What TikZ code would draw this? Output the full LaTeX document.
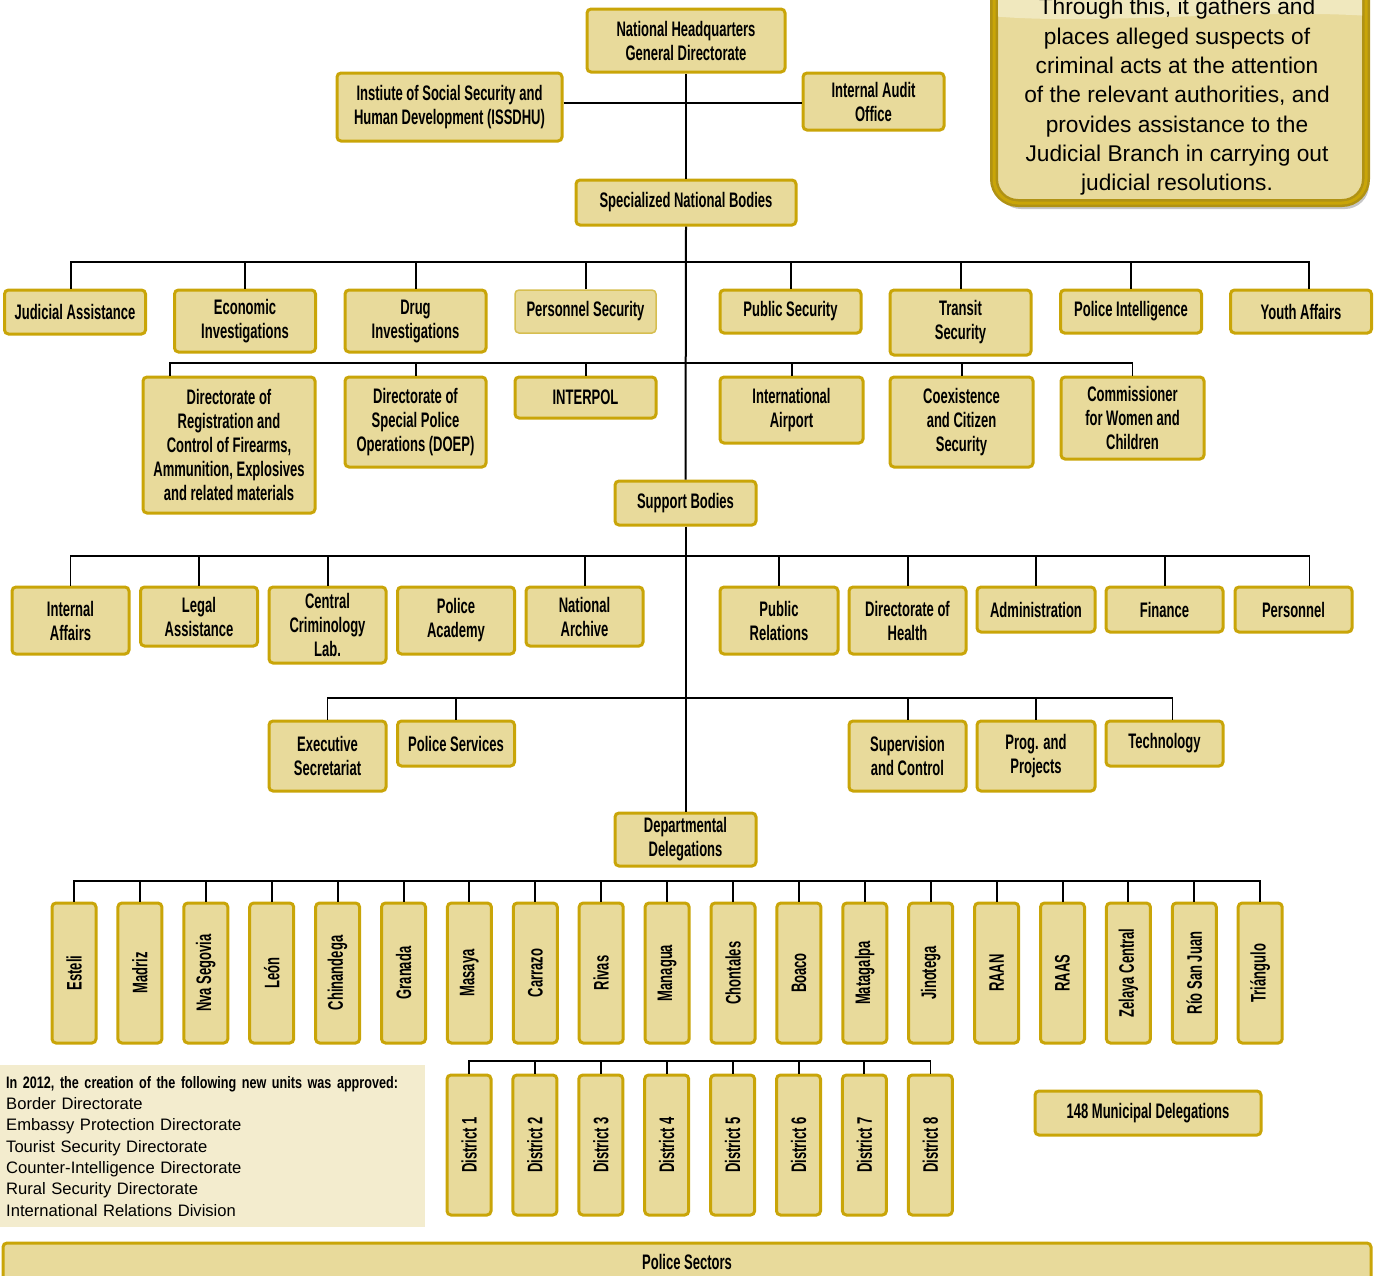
\documentclass[tikz,border=0pt]{standalone}
\usepackage{fontspec}
\setmainfont{Liberation Sans}
\newfontfamily\condfont[FakeStretch=0.62]{Liberation Sans}
\newfontfamily\notefont[FakeStretch=0.76]{Liberation Sans}
\usetikzlibrary{shadows}

\definecolor{sand}{RGB}{232,218,155}
\definecolor{sandlight}{RGB}{240,232,190}
\definecolor{gold}{RGB}{201,165,8}
\definecolor{golddark}{RGB}{176,146,20}
\definecolor{goldlight}{RGB}{214,190,80}
\definecolor{notesand}{RGB}{243,236,206}

\begin{document}
\begin{tikzpicture}[x=1pt, y=-1pt,
    unit/.style={draw=gold, fill=sand, line width=3pt, rounded corners=4pt, inner sep=0pt,
        align=center, font=\condfont\bfseries\fontsize{21}{24}\selectfont},
    spec/.style={unit, minimum width=141pt},
    supp/.style={unit, minimum width=117pt},
    dept/.style={unit, minimum width=44pt, minimum height=140pt},
    link/.style={line width=2pt},
    bus/.style={line width=1.6pt}]
    \useasboundingbox (0,0) rectangle (1374,1275);

    % Info panel, top right
    \draw[line width=8pt, golddark, fill=sand, rounded corners=24pt,
        drop shadow={shadow xshift=3pt, shadow yshift=-6pt, opacity=0.45}] (994,-60) rectangle (1366,203);
    \begin{scope}
        \clip[rounded corners=20pt] (998,-60) rectangle (1362,199);
        \fill[sandlight] (990,-60) -- (990,16) .. controls (1100,26) and (1250,8) .. (1370,16) -- (1370,-60) -- cycle;
    \end{scope}
    \draw[line width=3pt, gold, rounded corners=24pt] (994,-60) rectangle (1366,203);
    \node[align=center, font=\fontsize{22.7}{29.3}\selectfont] (info) at (1177,97) {Through this, it gathers and\\
        places alleged suspects of\\ criminal acts at the attention\\ of the relevant authorities, and\\
        provides assistance to the\\ Judicial Branch in carrying out\\ judicial resolutions.};

    % Headquarters
    \node[unit, minimum width=198pt, minimum height=63pt] (hq) at (686,40.5) {National Headquarters\\ General Directorate};
    \node[unit, minimum width=225pt, minimum height=68pt] (issdhu) at (449.5,107) {Instiute of Social Security and\\ Human Development (ISSDHU)};
    \node[spec, minimum height=57pt] (audit) at (873.5,101.5) {Internal Audit\\ Office};
    \node[unit, minimum width=220pt, minimum height=45pt] (snb) at (686,202.5) {Specialized National Bodies};
    \coordinate (side) at (686,103);
    \draw[link] (issdhu.east |- side) -- (audit.west |- side);
    \draw[link] (hq.south) -- (snb.north);

    % Specialized national bodies
    \node[spec, minimum height=44pt] (judicial) at (75,312) {Judicial Assistance};
    \node[spec, minimum height=62pt] (econ) at (245,321) {Economic\\ Investigations};
    \node[spec, minimum height=62pt] (drug) at (415.5,321) {Drug\\ Investigations};
    \node[spec, minimum height=43pt, draw=goldlight, line width=1.5pt] (perssec) at (585.5,311.5) {Personnel Security};
    \node[spec, minimum height=43pt] (pubsec) at (790.5,311.5) {Public Security};
    \node[spec, minimum height=65pt] (transit) at (960.5,322.5) {Transit\\ Security};
    \node[spec, minimum height=43pt] (intel) at (1131,311.5) {Police Intelligence};
    \node[spec, minimum height=43pt] (youth) at (1301,311.5) {Youth Affairs};

    \node[spec, minimum width=172pt, minimum height=136pt] (registration) at (229,445) {Directorate of\\ Registration and\\
        Control of Firearms,\\ Ammunition, Explosives\\ and related materials};
    \node[spec, minimum height=90pt] (doep) at (415.5,422) {Directorate of\\ Special Police\\ Operations (DOEP)};
    \node[spec, minimum height=41pt] (interpol) at (585.5,397.5) {INTERPOL};
    \node[spec, minimum width=143pt, minimum height=66pt] (airport) at (791.5,410) {International\\ Airport};
    \node[spec, minimum width=143pt, minimum height=90pt] (coexist) at (961.5,422) {Coexistence\\ and Citizen\\ Security};
    \node[spec, minimum width=143pt, minimum height=82pt] (commish) at (1132.5,418) {Commissioner\\ for Women and\\ Children};

    \coordinate (bus1) at (686,262);
    \coordinate (bus2) at (686,363);
    \draw[bus] ([xshift=-4pt]judicial.north) |- (bus1) -| ([xshift=8pt]youth.north);
    \foreach \n in {econ,drug,perssec,pubsec,transit,intel}
        \draw[link] (\n.north) -- (\n.north |- bus1);
    \draw[bus] ([xshift=-59pt]registration.north) |- (bus2) -| (commish.north);
    \foreach \n in {doep,interpol,airport,coexist}
        \draw[link] (\n.north) -- (\n.north |- bus2);

    % Support bodies
    \node[spec, minimum height=44pt] (support) at (685.5,503) {Support Bodies};
    \draw[link] (snb.south) -- (support.north);

    \node[supp, minimum height=67pt] (intaff) at (70.5,620.5) {Internal\\ Affairs};
    \node[supp, minimum height=59pt] (legal) at (199,616.5) {Legal\\ Assistance};
    \node[supp, minimum height=76pt] (crimlab) at (327.5,625) {Central\\ Criminology\\ Lab.};
    \node[supp, minimum height=67pt] (academy) at (456,620.5) {Police\\ Academy};
    \node[supp, minimum height=59pt] (archive) at (584.5,616.5) {National\\ Archive};
    \node[supp, minimum width=118pt, minimum height=67pt] (pubrel) at (779,620.5) {Public\\ Relations};
    \node[supp, minimum height=67pt] (health) at (907.5,620.5) {Directorate of\\ Health};
    \node[supp, minimum width=118pt, minimum height=45pt] (admin) at (1036,609.5) {Administration};
    \node[supp, minimum height=45pt] (finance) at (1164.5,609.5) {Finance};
    \node[supp, minimum height=45pt] (personnel) at (1293.5,609.5) {Personnel};

    \node[supp, minimum height=70pt] (execsec) at (327.5,756) {Executive\\ Secretariat};
    \node[supp, minimum height=45pt] (services) at (456,743.5) {Police Services};
    \node[supp, minimum height=70pt] (supervision) at (907.5,756) {Supervision\\ and Control};
    \node[supp, minimum width=118pt, minimum height=70pt] (projects) at (1036,756) {Prog. and\\ Projects};
    \node[supp, minimum height=45pt] (technology) at (1164.5,743.5) {Technology};

    \coordinate (bus3) at (686,556);
    \coordinate (bus4) at (686,698);
    \draw[bus] (intaff.north) |- (bus3) -| ([xshift=16pt]personnel.north);
    \foreach \n in {legal,crimlab,archive,pubrel,health,admin,finance}
        \draw[link] (\n.north) -- (\n.north |- bus3);
    \draw[bus] (execsec.north) |- (bus4) -| ([xshift=8pt]technology.north);
    \foreach \n in {services,supervision,projects}
        \draw[link] (\n.north) -- (\n.north |- bus4);

    % Departmental delegations
    \node[spec, minimum height=53pt] (deptdel) at (685.5,839.5) {Departmental\\ Delegations};
    \draw[link] (support.south) -- (deptdel.north);

    \foreach \n/\txt [count=\i from 0] in {esteli/Esteli, madriz/Madriz, nvasegovia/Nva Segovia, leon/León,
        chinandega/Chinandega, granada/Granada, masaya/Masaya, carrazo/Carrazo, rivas/Rivas, managua/Managua,
        chontales/Chontales, boaco/Boaco, matagalpa/Matagalpa, jinotega/Jinotega, raan/RAAN, raas/RAAS,
        zelaya/Zelaya Central, riosanjuan/Río San Juan, triangulo/Triángulo}
        \node[dept] (\n) at ({74+65.9*\i},973) {\rotatebox{90}{\txt}};
    \coordinate (bus5) at (686,881);
    \draw[bus] (esteli.north) |- (bus5) -| (triangulo.north);
    \foreach \n in {madriz,nvasegovia,leon,chinandega,granada,masaya,carrazo,rivas,managua,
        chontales,boaco,matagalpa,jinotega,raan,raas,zelaya,riosanjuan}
        \draw[link] (\n.north) -- (\n.north |- bus5);

    % Districts
    \foreach \i in {1,...,8}
        \node[dept] (district\i) at ({469+65.9*(\i-1)},1145) {\rotatebox{90}{District \i}};
    \coordinate (bus6) at (700,1061);
    \draw[bus] (district1.north) |- (bus6) -| (district8.north);
    \foreach \i in {2,...,7}
        \draw[link] (district\i.north) -- (district\i.north |- bus6);

    \node[unit, minimum width=226pt, minimum height=44pt] (municipal) at (1148,1113) {148 Municipal Delegations};

    % New units note
    \node[fill=notesand, anchor=north west, minimum width=425pt, minimum height=162pt, text width=413pt,
        inner xsep=6pt, inner ysep=0pt, align=left, font=\fontsize{16.6}{21.3}\selectfont] (note) at (0,1065)
        {\mbox{\notefont\bfseries In 2012, the creation of the following new units was approved:}\\
        Border Directorate\\ Embassy Protection Directorate\\ Tourist Security Directorate\\
        Counter-Intelligence Directorate\\ Rural Security Directorate\\ International Relations Division};

    % Police sectors
    \node[unit, minimum width=1368pt, minimum height=38pt] (sectors) at (687,1262) {Police Sectors};
\end{tikzpicture}
\end{document}
